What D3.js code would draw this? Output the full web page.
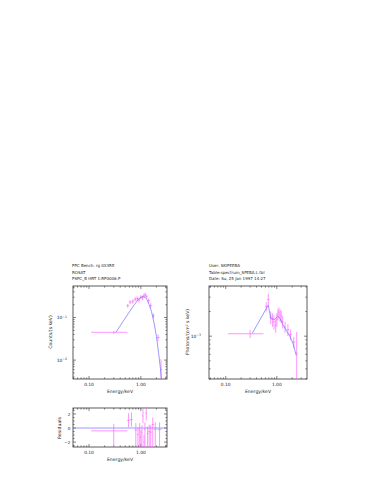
<!DOCTYPE html>
<html><head><meta charset="utf-8">
<script src="https://cdn.jsdelivr.net/npm/d3@7"></script>
<style>body{margin:0;background:#fff}svg{display:block}text{font-family:"DejaVu Sans",sans-serif;fill:#222}</style>
</head><body><div id="chart"></div>
<script>
const headerLeft = ["PPC Bench. rg 0X3RE", "ROSAT", "PSPC_B HRT 1:RP0006.P"];
const headerRight = ["User: SKIPEEBA", "Table:spectrum_SPEBA.L.tbl", "Date: Su, 25 Jan 1997 14:27"];
const xTickLabels = ["0.10", "1.00"];
const xTickValues = [0.1, 1];

// Left: counts spectrum
const cntE    = [0.30, 0.56, 0.62, 0.70, 0.78, 0.85, 0.92, 1.00, 1.08, 1.15, 1.22, 1.30, 1.42, 1.55, 1.75, 2.15, 2.45];
const cntV    = [0.045, 0.19, 0.23, 0.24, 0.27, 0.28, 0.26, 0.30, 0.29, 0.33, 0.34, 0.31, 0.25, 0.19, 0.11, 0.034, 0.006];
const cntELo  = [0.11, 0.53, 0.59, 0.66, 0.74, 0.82, 0.89, 0.96, 1.04, 1.11, 1.18, 1.26, 1.36, 1.49, 1.65, 2.0, 2.35];
const cntEHi  = [0.55, 0.59, 0.66, 0.74, 0.82, 0.89, 0.96, 1.04, 1.11, 1.18, 1.26, 1.34, 1.49, 1.62, 1.85, 2.3, 2.55];
const cntErr  = [0.004, 0.02, 0.025, 0.03, 0.03, 0.035, 0.035, 0.035, 0.035, 0.04, 0.04, 0.035, 0.03, 0.025, 0.015, 0.006, 0.0045];
const cntModE = [0.33, 0.45, 0.6, 0.75, 0.9, 1.0, 1.1, 1.2, 1.3, 1.45, 1.6, 1.8, 2.0, 2.2, 2.4, 2.5];
const cntModV = [0.045, 0.08, 0.135, 0.2, 0.27, 0.3, 0.31, 0.3, 0.27, 0.2, 0.14, 0.075, 0.036, 0.015, 0.006, 0.0036];

// Residuals
const resE   = [0.30, 0.58, 0.66, 0.80, 0.88, 0.95, 1.00, 1.05, 1.10, 1.15, 1.20, 1.27, 1.35, 1.45, 1.55, 1.70, 1.90, 2.30];
const resV   = [-0.4, 1.1, 1.2, -0.3, -0.9, -0.3, -1.3, -0.6, 1.7, -2.0, -0.2, 2.1, -0.8, -0.5, -0.6, 0.5, -0.2, -0.2];
const resELo = [0.11, 0.54, 0.62, 0.76, 0.84, 0.91, 0.97, 1.02, 1.07, 1.12, 1.17, 1.23, 1.31, 1.40, 1.49, 1.62, 1.80, 2.10];
const resEHi = [0.55, 0.62, 0.70, 0.84, 0.91, 0.97, 1.02, 1.07, 1.12, 1.17, 1.23, 1.31, 1.40, 1.49, 1.62, 1.80, 2.00, 2.50];
const resErr = [1.0, 1.0, 1.0, 1.0, 1.0, 1.0, 1.0, 1.0, 1.0, 1.0, 1.0, 1.0, 1.0, 1.0, 1.0, 1.0, 1.0, 1.0];

// Right: photon spectrum
const phE    = [0.30, 0.62, 0.68, 0.76, 0.82, 0.88, 0.95, 1.00, 1.05, 1.10, 1.16, 1.22, 1.30, 1.45, 1.65, 1.85, 2.15, 2.45];
const phV    = [1.07e-3, 2.3e-3, 2.8e-3, 1.7e-3, 1.6e-3, 1.5e-3, 1.35e-3, 1.6e-3, 1.85e-3, 1.95e-3, 1.8e-3, 1.75e-3, 1.5e-3, 1.3e-3, 1.2e-3, 1.05e-3, 8.5e-4, 6.2e-4];
const phELo  = [0.11, 0.59, 0.65, 0.72, 0.79, 0.85, 0.91, 0.97, 1.02, 1.07, 1.13, 1.19, 1.26, 1.38, 1.55, 1.75, 2.0, 2.35];
const phEHi  = [0.55, 0.65, 0.72, 0.79, 0.85, 0.91, 0.97, 1.02, 1.07, 1.13, 1.19, 1.26, 1.34, 1.52, 1.75, 1.95, 2.3, 2.55];
const phErrLo= [1.2e-4, 3e-4, 4e-4, 3e-4, 3e-4, 3e-4, 2.5e-4, 3e-4, 3e-4, 3e-4, 3e-4, 3e-4, 2.5e-4, 2e-4, 2e-4, 1.5e-4, 1.3e-4, 4e-4];
const phErrHi= [1.2e-4, 3e-4, 5e-4, 3e-4, 3e-4, 3e-4, 2.5e-4, 3e-4, 3e-4, 3e-4, 3e-4, 3e-4, 2.5e-4, 2e-4, 2e-4, 1.5e-4, 1.3e-4, 5e-4];
const phModE = [0.33, 0.68, 0.76, 0.9, 1.05, 1.15, 1.3, 1.5, 1.8, 2.1, 2.4];
const phModV = [1.08e-3, 2.4e-3, 1.65e-3, 1.6e-3, 1.75e-3, 1.65e-3, 1.4e-3, 1.2e-3, 1.0e-3, 8e-4, 5.8e-4];

const W = 373, H = 483;
const svg = d3.select("#chart").append("svg").attr("width", W).attr("height", H);
const PINK = "#ff66ff", BLUE = "#6f6fff", FRAME = "#333";

function header(lines, x, y0) {
  lines.forEach((t, i) => svg.append("text").attr("x", x).attr("y", y0 + i * 6.6)
    .attr("font-size", 4).text(t));
}
header(headerLeft, 72, 267);
header(headerRight, 209, 267);

function logTicks(lo, hi) {
  const out = [];
  for (let e = Math.floor(Math.log10(lo)); e <= Math.ceil(Math.log10(hi)); e++)
    for (let m = 1; m < 10; m++) { const v = m * Math.pow(10, e); if (v >= lo && v <= hi) out.push({v, major: m === 1}); }
  return out;
}

function frame(g, x, y, ylog) {
  const [x0, x1] = x.range(), [y1, y0] = y.range();
  g.append("rect").attr("x", x0).attr("y", y0).attr("width", x1 - x0).attr("height", y1 - y0)
    .attr("fill", "none").attr("stroke", FRAME).attr("stroke-width", 0.8);
  const xt = logTicks(x.domain()[0], x.domain()[1]);
  xt.forEach(t => {
    const L = t.major ? 3 : 1.6, px = x(t.v);
    g.append("line").attr("x1", px).attr("x2", px).attr("y1", y1).attr("y2", y1 - L).attr("stroke", FRAME).attr("stroke-width", 0.6);
    g.append("line").attr("x1", px).attr("x2", px).attr("y1", y0).attr("y2", y0 + L).attr("stroke", FRAME).attr("stroke-width", 0.6);
  });
  let yt;
  if (ylog) yt = logTicks(y.domain()[0], y.domain()[1]);
  else { yt = []; for (let v = -3; v <= 3; v += 0.5) if (v >= y.domain()[0] && v <= y.domain()[1]) yt.push({v, major: Number.isInteger(v / 2)}); }
  yt.forEach(t => {
    const L = t.major ? 3 : 1.6, py = y(t.v);
    g.append("line").attr("x1", x0).attr("x2", x0 + L).attr("y1", py).attr("y2", py).attr("stroke", FRAME).attr("stroke-width", 0.6);
    g.append("line").attr("x1", x1).attr("x2", x1 - L).attr("y1", py).attr("y2", py).attr("stroke", FRAME).attr("stroke-width", 0.6);
  });
  xTickValues.forEach((v, i) => g.append("text").attr("x", x(v)).attr("y", y1 + 7).attr("text-anchor", "middle")
    .attr("font-size", 4.4).text(xTickLabels[i]));
}

function xlabel(g, x, y, txt) {
  const [x0, x1] = x.range();
  g.append("text").attr("x", (x0 + x1) / 2).attr("y", y.range()[0] + 14).attr("text-anchor", "middle")
    .attr("font-size", 4.6).text(txt);
}

function ylogLabels(g, x, y, exps, gap) {
  exps.forEach(e => {
    const t = g.append("text").attr("x", x.range()[0] - gap).attr("y", y(Math.pow(10, e)) + 1.8)
      .attr("text-anchor", "end").attr("font-size", 4.4);
    t.append("tspan").text("10");
    t.append("tspan").attr("dy", -1.8).attr("font-size", 3.2).text("−" + (-e));
  });
}

function ylabel(g, cx, cy, txt) {
  g.append("text").attr("transform", `translate(${cx},${cy}) rotate(-90)`).attr("text-anchor", "middle")
    .attr("font-size", 4.6).text(txt);
}

function errorBars(g, x, y, E, V, Elo, Ehi, eLo, eHi) {
  const yr = y.range();
  const clampY = v => Math.max(Math.min(yr[0], v), yr[1]);
  E.forEach((e, i) => {
    g.append("line").attr("x1", x(Elo[i])).attr("x2", x(Ehi[i])).attr("y1", y(V[i])).attr("y2", y(V[i]))
      .attr("stroke", PINK).attr("stroke-width", 0.7);
    const lo = V[i] - eLo[i];
    const ylo = (lo <= 0 || (y.domain()[0] > 0 && lo < y.domain()[0])) ? yr[0] : clampY(y(lo));
    g.append("line").attr("x1", x(e)).attr("x2", x(e)).attr("y1", ylo).attr("y2", clampY(y(V[i] + eHi[i])))
      .attr("stroke", PINK).attr("stroke-width", 0.7);
  });
}

// Left main panel
{
  const g = svg.append("g");
  const x = d3.scaleLog().domain([0.049, 3.2]).range([73, 167]);
  const y = d3.scaleLog().domain([0.0036, 0.55]).range([379, 286]);
  frame(g, x, y, true);
  errorBars(g, x, y, cntE, cntV, cntELo, cntEHi, cntErr, cntErr);
  g.append("path").datum(cntModE.map((e, i) => [e, cntModV[i]]))
    .attr("d", d3.line().x(d => x(d[0])).y(d => y(d[1]))).attr("fill", "none").attr("stroke", BLUE).attr("stroke-width", 0.7);
  ylogLabels(g, x, y, [-1, -2], 6);
  xlabel(g, x, y, "Energy/keV");
  ylabel(g, 52, 332, "Counts/(s keV)");
}

// Residual panel
{
  const g = svg.append("g");
  const x = d3.scaleLog().domain([0.049, 3.2]).range([73, 167]);
  const y = d3.scaleLinear().domain([-2.7, 2.85]).range([447, 408]);
  frame(g, x, y, false);
  g.append("line").attr("x1", 73).attr("x2", 167).attr("y1", y(0)).attr("y2", y(0)).attr("stroke", BLUE).attr("stroke-width", 0.7);
  errorBars(g, x, y, resE, resV, resELo, resEHi, resErr, resErr);
  [2, 0, -2].forEach(v => g.append("text").attr("x", 70.5).attr("y", y(v) + 1.6).attr("text-anchor", "end")
    .attr("font-size", 4.2).text(v < 0 ? "−" + (-v) : v));
  xlabel(g, x, y, "Energy/keV");
  ylabel(g, 61, 428, "Residuals");
}

// Right panel
{
  const g = svg.append("g");
  const x = d3.scaleLog().domain([0.047, 3.9]).range([209, 307]);
  const y = d3.scaleLog().domain([3.0e-4, 4.1e-3]).range([379, 286]);
  frame(g, x, y, true);
  errorBars(g, x, y, phE, phV, phELo, phEHi, phErrLo, phErrHi);
  g.append("path").datum(phModE.map((e, i) => [e, phModV[i]]))
    .attr("d", d3.line().x(d => x(d[0])).y(d => y(d[1]))).attr("fill", "none").attr("stroke", BLUE).attr("stroke-width", 0.7);
  ylogLabels(g, x, y, [-3], 8);
  xlabel(g, x, y, "Energy/keV");
  ylabel(g, 189, 332, "Photons/(cm² s keV)");
}
</script></body></html>
